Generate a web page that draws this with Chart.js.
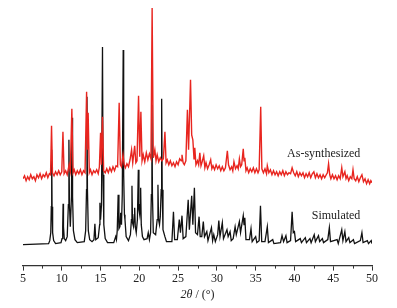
<!DOCTYPE html>
<html>
<head>
<meta charset="utf-8">
<script src="https://cdn.jsdelivr.net/npm/chart.js@4/dist/chart.umd.min.js"></script>
<style>
  html, body { margin: 0; padding: 0; background: #fff; }
  #wrap { width: 397px; height: 308px; position: relative; }
</style>
</head>
<body>
<div id="wrap"><canvas id="chart-xrd"></canvas></div>
<script>
// Patrón simulado: [2θ, intensidad] (línea base = 0)
const simulated = [
  [5.0, 0], [8.3, 1], [8.45, 4], [8.58, 12], [8.65, 38], [8.7, 95], [8.75, 38],
  [8.82, 12], [8.95, 4], [9.2, 1], [9.9, 2], [10.03, 6], [10.12, 18], [10.17, 41],
  [10.22, 18], [10.32, 6], [10.5, 4], [10.7, 8], [10.85, 40], [10.92, 105],
  [10.99, 40], [11.1, 18], [11.25, 48], [11.32, 127], [11.39, 48], [11.5, 14],
  [11.7, 5], [12.0, 2], [12.9, 3], [13.08, 14], [13.19, 55], [13.25, 148],
  [13.31, 55], [13.42, 14], [13.6, 5], [13.9, 3], [14.15, 5], [14.27, 21],
  [14.38, 5], [14.7, 7], [14.88, 20], [14.92, 42], [15.0, 25], [15.12, 40],
  [15.25, 198], [15.32, 70], [15.42, 20], [15.6, 6], [15.9, 2], [16.7, 2],
  [16.95, 8], [17.05, 5], [17.15, 14], [17.27, 50], [17.37, 16], [17.5, 18],
  [17.6, 32], [17.7, 20], [17.8, 50], [17.92, 195], [17.98, 70], [18.08, 30],
  [18.15, 25], [18.3, 8], [18.6, 4], [18.85, 10], [18.98, 25], [19.05, 59],
  [19.12, 22], [19.25, 18], [19.35, 30], [19.4, 37], [19.48, 18], [19.6, 12],
  [19.75, 25], [19.87, 75], [19.95, 35], [20.05, 30], [20.12, 40], [20.17, 57],
  [20.25, 20], [20.4, 8], [20.6, 5], [21.0, 6], [21.15, 12], [21.3, 5],
  [21.45, 12], [21.55, 50], [21.62, 140], [21.69, 50], [21.8, 12], [22.1, 10],
  [22.3, 25], [22.4, 60], [22.48, 25], [22.6, 20], [22.7, 28], [22.82, 55],
  [22.88, 146], [22.95, 55], [23.05, 15], [23.3, 8], [23.5, 3],
  [24.2, 3], [24.4, 33], [24.55, 5], [24.9, 5],
  [25.15, 25], [25.3, 12], [25.5, 29], [25.65, 6], [26.0, 8], [26.3, 45],
  [26.45, 15], [26.75, 49], [26.9, 20], [27.1, 57], [27.25, 12], [27.5, 10],
  [27.7, 28], [27.85, 8], [28.05, 8], [28.25, 23], [28.4, 8], [28.7, 13],
  [28.85, 4], [29.3, 17], [29.45, 4], [29.6, 10], [29.8, 3], [30.1, 10],
  [30.25, 24], [30.4, 8], [30.7, 22], [30.85, 6], [31.3, 15], [31.45, 8],
  [31.7, 13], [31.85, 4], [32.1, 6], [32.35, 18], [32.5, 10], [32.9, 23],
  [33.05, 12], [33.4, 29], [33.5, 20], [33.6, 27], [33.75, 5], [34.2, 5],
  [34.4, 16], [34.55, 3], [35.0, 8], [35.15, 2], [35.45, 4], [35.62, 39],
  [35.78, 3], [36.2, 3], [36.5, 18], [36.65, 2], [37.2, 5], [37.35, 1],
  [38.2, 2], [38.4, 9], [38.6, 3], [38.9, 9], [39.05, 2], [39.5, 4],
  [39.7, 33], [39.85, 12], [40.0, 13], [40.15, 3], [40.75, 6], [40.9, 2],
  [41.4, 7], [41.55, 2], [42.0, 6], [42.15, 2], [42.55, 10], [42.7, 3],
  [43.1, 9], [43.25, 3], [43.6, 6], [43.75, 2], [44.3, 5], [44.5, 17],
  [44.65, 3], [45.5, 5], [45.65, 1], [46.1, 15], [46.25, 4], [46.5, 13],
  [46.65, 3], [47.0, 7], [47.15, 2], [47.6, 5], [47.75, 1], [48.5, 4],
  [48.7, 12], [48.85, 2], [49.4, 4], [49.55, 1], [49.9, 4], [50.0, 1],
];

// Patrón experimental (desplazado hacia arriba en la figura original)
const asSynthesized = [
  [5.0, 66], [5.2, 69], [5.4, 64], [5.6, 68], [5.8, 65], [6.0, 70], [6.2, 66],
  [6.4, 68], [6.6, 64], [6.8, 70], [7.0, 67], [7.2, 71], [7.4, 66], [7.6, 70],
  [7.8, 68], [8.0, 72], [8.2, 67], [8.4, 71], [8.55, 70], [8.68, 119], [8.8, 72],
  [9.0, 69], [9.2, 73], [9.4, 70], [9.6, 74], [9.8, 70], [10.0, 73], [10.15, 113],
  [10.3, 71], [10.5, 74], [10.7, 70], [10.85, 76], [10.95, 80], [11.1, 74],
  [11.3, 136], [11.45, 72], [11.6, 75], [11.8, 70], [12.0, 74], [12.2, 71],
  [12.4, 75], [12.6, 70], [12.8, 74], [13.0, 72], [13.2, 153], [13.3, 95],
  [13.4, 132], [13.55, 72], [13.7, 75], [13.9, 70], [14.1, 74], [14.3, 72],
  [14.5, 75], [14.7, 71], [14.85, 78], [15.0, 112], [15.1, 80], [15.25, 128],
  [15.4, 74], [15.6, 72], [15.8, 76], [16.0, 72], [16.2, 77], [16.4, 73],
  [16.6, 78], [16.8, 74], [17.0, 79], [17.2, 78], [17.4, 142], [17.55, 80],
  [17.7, 78], [17.9, 90], [18.05, 80], [18.2, 77], [18.4, 81], [18.6, 78],
  [18.8, 85], [19.0, 95], [19.15, 82], [19.4, 99], [19.55, 82], [19.7, 84],
  [19.9, 149], [20.05, 88], [20.2, 133], [20.35, 84], [20.5, 90], [20.7, 83],
  [20.9, 92], [21.1, 85], [21.3, 91], [21.5, 86], [21.65, 237], [21.8, 87],
  [22.0, 95], [22.15, 84], [22.3, 90], [22.5, 83], [22.7, 87], [22.9, 84],
  [23.1, 86], [23.3, 113], [23.45, 82], [23.6, 85], [23.8, 80], [24.0, 84],
  [24.2, 79], [24.4, 82], [24.6, 78], [24.8, 83], [25.0, 80], [25.2, 86],
  [25.4, 84], [25.5, 90], [25.65, 82], [25.8, 80], [26.0, 84], [26.2, 135],
  [26.35, 95], [26.6, 165], [26.75, 110], [26.9, 105], [27.05, 86], [27.15, 97],
  [27.3, 80], [27.5, 84], [27.65, 80], [27.8, 92], [27.95, 79], [28.1, 83],
  [28.3, 89], [28.45, 77], [28.6, 82], [28.8, 76], [29.0, 80], [29.2, 85],
  [29.35, 76], [29.5, 79], [29.7, 75], [29.9, 80], [30.1, 76], [30.3, 79],
  [30.5, 74], [30.7, 78], [30.9, 74], [31.1, 77], [31.35, 94], [31.5, 80],
  [31.7, 75], [31.9, 78], [32.05, 74], [32.2, 83], [32.4, 76], [32.6, 79],
  [32.75, 76], [32.9, 86], [33.05, 78], [33.2, 80], [33.4, 96], [33.5, 84],
  [33.6, 87], [33.75, 74], [33.9, 77], [34.1, 72], [34.3, 76], [34.5, 73],
  [34.7, 77], [34.9, 72], [35.1, 76], [35.3, 72], [35.45, 75], [35.65, 138],
  [35.8, 76], [36.0, 72], [36.2, 76], [36.4, 71], [36.5, 79], [36.7, 72],
  [36.9, 75], [37.1, 70], [37.3, 74], [37.5, 70], [37.7, 73], [37.9, 69],
  [38.1, 73], [38.3, 70], [38.5, 74], [38.7, 69], [38.9, 73], [39.1, 70],
  [39.3, 72], [39.5, 71], [39.7, 77], [39.9, 72], [40.1, 69], [40.3, 73],
  [40.5, 68], [40.7, 72], [40.9, 69], [41.1, 72], [41.3, 67], [41.5, 71],
  [41.7, 68], [41.9, 72], [42.1, 67], [42.3, 71], [42.5, 73], [42.7, 67],
  [42.9, 71], [43.1, 67], [43.3, 70], [43.5, 66], [43.7, 70], [43.9, 67],
  [44.1, 70], [44.25, 72], [44.4, 81], [44.55, 70], [44.7, 66], [44.9, 70],
  [45.1, 66], [45.3, 69], [45.5, 65], [45.7, 69], [45.9, 66], [46.1, 77],
  [46.25, 68], [46.5, 73], [46.65, 66], [46.8, 69], [47.0, 64], [47.2, 68],
  [47.4, 66], [47.55, 75], [47.7, 66], [47.9, 64], [48.1, 68], [48.3, 63],
  [48.5, 67], [48.7, 70], [48.9, 63], [49.1, 66], [49.3, 61], [49.5, 65],
  [49.7, 61], [49.85, 64], [50.0, 62],
];

const minorTicks = [7.5, 12.5, 17.5, 22.5, 27.5, 32.5, 37.5, 42.5, 47.5];
const seriesNames = ["As-synthesized", "Simulated"];

const SERIF = '"Liberation Serif", "DejaVu Serif", serif';

// Marcas menores, etiquetas de las curvas y título del eje (2θ en cursiva)
const extras = {
  id: "extras",
  afterDraw(chart) {
    const { ctx, scales } = chart;
    const x = scales.x;
    const y = scales.y;
    ctx.save();
    ctx.strokeStyle = "#333";
    ctx.lineWidth = 1;
    minorTicks.forEach((v) => {
      const px = Math.round(x.getPixelForValue(v)) + 0.5;
      ctx.beginPath();
      ctx.moveTo(px, y.bottom);
      ctx.lineTo(px, y.bottom + 3);
      ctx.stroke();
    });

    ctx.fillStyle = "#222";
    ctx.font = "12px " + SERIF;
    ctx.textAlign = "right";
    ctx.textBaseline = "middle";
    ctx.fillText(seriesNames[0], x.getPixelForValue(48.5), y.getPixelForValue(91));
    ctx.fillText(seriesNames[1], x.getPixelForValue(48.5), y.getPixelForValue(29));

    // título del eje x
    const part1 = "2θ";
    const part2 = " / (°)";
    ctx.font = "italic 12px " + SERIF;
    const w1 = ctx.measureText(part1).width;
    ctx.font = "12px " + SERIF;
    const w2 = ctx.measureText(part2).width;
    const cx = (x.left + x.right) / 2;
    const ty = 295;
    let sx = cx - (w1 + w2) / 2;
    ctx.textAlign = "left";
    ctx.font = "italic 12px " + SERIF;
    ctx.fillText(part1, sx, ty);
    ctx.font = "12px " + SERIF;
    ctx.fillText(part2, sx + w1, ty);
    ctx.restore();
  },
};

const ctx = document.getElementById("chart-xrd").getContext("2d");

new Chart(ctx, {
  type: "line",
  data: {
    datasets: [
      {
        label: seriesNames[0],
        data: asSynthesized,
        borderColor: "#e8251f",
        borderWidth: 1.4,
        pointRadius: 0,
        tension: 0,
      },
      {
        label: seriesNames[1],
        data: simulated,
        borderColor: "#111",
        borderWidth: 1.3,
        pointRadius: 0,
        tension: 0,
      },
    ],
  },
  options: {
    responsive: true,
    maintainAspectRatio: false,
    animation: false,
    layout: { padding: { left: 23, right: 25, top: 5, bottom: 21 } },
    plugins: { legend: { display: false }, tooltip: { enabled: false } },
    scales: {
      x: {
        type: "linear",
        min: 5,
        max: 50,
        border: { display: true, color: "#333", width: 1.3 },
        grid: { drawOnChartArea: false, tickLength: 5, color: "#333", tickWidth: 1 },
        ticks: {
          stepSize: 5,
          padding: 1,
          color: "#222",
          font: { family: SERIF, size: 12 },
          maxRotation: 0,
        },
      },
      y: {
        display: false,
        min: -21,
        max: 240,
      },
    },
  },
  plugins: [extras],
});
</script>
</body>
</html>
